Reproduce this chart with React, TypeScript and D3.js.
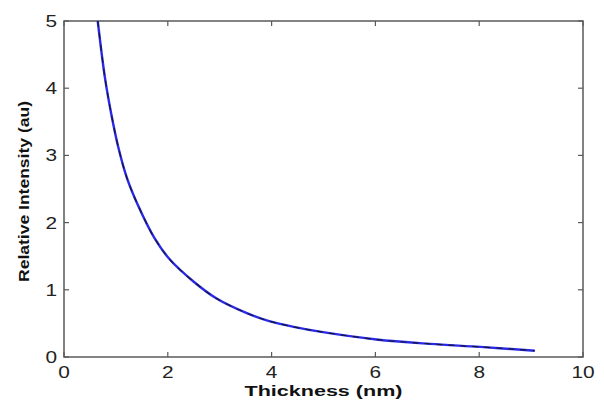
import React from "react";
import * as d3 from "d3";

// Data
const thicknessNm = [0.65, 0.79, 0.92, 1.05, 1.21, 1.43, 1.75, 2.04, 2.5, 2.94, 3.5, 3.97, 4.45, 4.93, 6.02, 7.05, 8.02, 9.07];
const relIntensity = [5.0, 4.15, 3.58, 3.11, 2.67, 2.25, 1.76, 1.45, 1.12, 0.87, 0.66, 0.53, 0.445, 0.377, 0.26, 0.195, 0.15, 0.094];
const xTicks = [0, 2, 4, 6, 8, 10];
const yTicks = [0, 1, 2, 3, 4, 5];
const xLabel = "Thickness (nm)";
const yLabel = "Relative Intensity (au)";

const W = 604;
const H = 402;
const M = { left: 64, top: 21, right: 583, bottom: 357 };

export default function App() {
  const x = d3.scaleLinear().domain([0, 10]).range([M.left, M.right]);
  const y = d3.scaleLinear().domain([0, 5]).range([M.bottom, M.top]);
  const pts: [number, number][] = thicknessNm.map((t, i) => [t, relIntensity[i]]);
  const line = d3
    .line<[number, number]>()
    .x((d) => x(d[0]))
    .y((d) => y(d[1]))
    .curve(d3.curveCatmullRom.alpha(0.5));
  const path = line(pts) || "";
  const axisColor = "#5a5a5a";
  const tickLen = 5;
  const font = "'Liberation Sans', Arial, sans-serif";

  return (
    <svg
      width={W}
      height={H}
      style={{ position: "absolute", left: 0, top: 0, background: "#fff" }}
    >
      <rect x={0} y={0} width={W} height={H} fill="#fff" />
      {xTicks.map((t) => (
        <g key={"xt" + t}>
          <line x1={x(t)} x2={x(t)} y1={M.bottom} y2={M.bottom - tickLen} stroke={axisColor} strokeWidth={1.2} />
          <line x1={x(t)} x2={x(t)} y1={M.top} y2={M.top + tickLen} stroke={axisColor} strokeWidth={1.2} />
          <text
            x={x(t)}
            y={378}
            textAnchor="middle"
            fontFamily={font}
            fontSize={17}
            fill="#222"
            textLength={String(t).length * 11.6}
            lengthAdjust="spacingAndGlyphs"
          >
            {t}
          </text>
        </g>
      ))}
      {yTicks.map((t) => (
        <g key={"yt" + t}>
          <line x1={M.left} x2={M.left + tickLen} y1={y(t)} y2={y(t)} stroke={axisColor} strokeWidth={1.2} />
          <line x1={M.right} x2={M.right - tickLen} y1={y(t)} y2={y(t)} stroke={axisColor} strokeWidth={1.2} />
          <text
            x={57}
            y={y(t) + 6}
            textAnchor="end"
            fontFamily={font}
            fontSize={17}
            fill="#222"
            textLength={String(t).length * 11.6}
            lengthAdjust="spacingAndGlyphs"
          >
            {t}
          </text>
        </g>
      ))}
      <rect
        x={M.left}
        y={M.top}
        width={M.right - M.left}
        height={M.bottom - M.top}
        fill="none"
        stroke={axisColor}
        strokeWidth={1.5}
      />
      {/* curve: blue solid with dark dashed overlay */}
      <path d={path} fill="none" stroke="#2a2ae6" strokeWidth={2.4} />
      <path d={path} fill="none" stroke="#15153a" strokeWidth={1.2} strokeDasharray="6,6" />
      <text
        x={(M.left + M.right) / 2}
        y={396}
        textAnchor="middle"
        fontFamily={font}
        fontWeight="bold"
        fontSize={15}
        fill="#111"
        textLength={158}
        lengthAdjust="spacingAndGlyphs"
      >
        {xLabel}
      </text>
      <text
        transform={`translate(29, ${(101 + 282) / 2}) rotate(-90)`}
        textAnchor="middle"
        fontFamily={font}
        fontWeight="bold"
        fontSize={15}
        fill="#111"
        textLength={181}
        lengthAdjust="spacingAndGlyphs"
      >
        {yLabel}
      </text>
    </svg>
  );
}
